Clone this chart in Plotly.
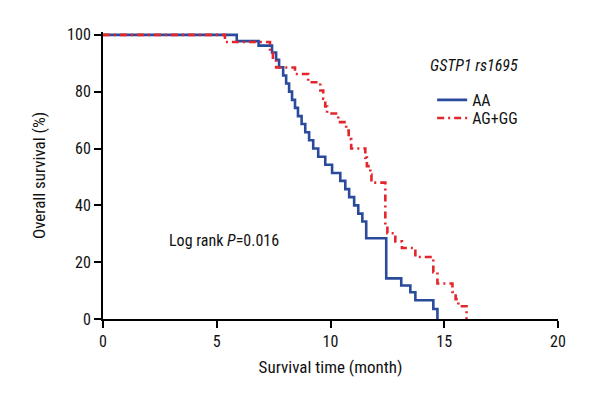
import plotly.graph_objects as go

# Kaplan-Meier step data
aa_time = [0, 5.88, 6.84, 7.43, 7.61, 7.74, 7.92, 8.05, 8.18, 8.31, 8.44, 8.57, 8.73, 8.89,
           9.06, 9.24, 9.46, 9.77, 10.07, 10.43, 10.65, 10.82, 11.04, 11.22, 11.40, 11.57,
           12.45, 13.11, 13.51, 13.73, 14.52, 14.70]
aa_surv = [100, 97.8, 96.2, 93.8, 91.2, 88.6, 85.7, 82.9, 80.0, 77.1, 74.3, 71.4, 68.6, 65.7,
           62.9, 60.0, 57.1, 54.3, 51.4, 48.6, 45.7, 42.9, 40.0, 37.1, 34.3, 28.4,
           14.3, 11.8, 9.4, 6.6, 3.5, 0]

ag_time = [0, 5.36, 7.34, 7.47, 7.61, 8.44, 9.02, 9.55, 9.68, 9.77, 9.85, 10.34, 10.69, 10.80,
           10.91, 11.53, 11.60, 11.75, 11.80, 12.41, 12.50, 12.85, 13.14, 13.73, 14.52, 14.70,
           15.36, 15.50, 15.62, 15.98]
ag_surv = [100, 97.5, 94.3, 91.4, 88.5, 86.2, 83.3, 80.4, 77.5, 74.8, 72.3, 69.3, 66.3, 63.3,
           60.0, 56.8, 53.8, 50.8, 48.0, 33.0, 30.2, 27.3, 25.0, 21.8, 16.5, 12.5,
           9.5, 7.0, 4.5, 0]

x_ticks = [0, 5, 10, 15, 20]
y_ticks = [0, 20, 40, 60, 80, 100]

FONT = "Liberation Sans Narrow, Roboto Condensed, DejaVu Sans Condensed, Arial Narrow, sans-serif"
BLUE = "#2a4a9c"
RED = "#e3262b"

fig = go.Figure()
fig.add_trace(go.Scatter(x=aa_time, y=aa_surv, mode="lines", name="AA", legend="legend",
                         line=dict(color=BLUE, width=2.6, shape="hv")))
fig.add_trace(go.Scatter(x=ag_time, y=ag_surv, mode="lines", name="AG+GG", legend="legend2",
                         line=dict(color=RED, width=2.6, shape="hv", dash="7px,4px,2px,4px")))

fig.add_annotation(x=5.32, y=27.7, xref="x", yref="y", showarrow=False,
                   text="Log rank <i>P</i>=0.016", font=dict(family=FONT, size=16, color="#111"))
fig.add_annotation(x=16.29, y=89.1, xref="x", yref="y", showarrow=False,
                   text="<i>GSTP1 rs1695</i>", font=dict(family=FONT, size=16, color="#111"))

leg_common = dict(xanchor="left", yanchor="middle", bgcolor="rgba(0,0,0,0)", borderwidth=0,
                  font=dict(family=FONT, size=16, color="#111"), itemwidth=30)

fig.update_layout(
    width=584, height=384,
    margin=dict(l=95, r=34, t=24, b=73),
    paper_bgcolor="white", plot_bgcolor="white",
    font=dict(family=FONT, size=16, color="#111"),
    showlegend=True,
    legend=dict(x=0.7234, y=0.763, **leg_common),
    legend2=dict(x=0.7234, y=0.700, **leg_common),
    xaxis=dict(range=[0, 20], tickvals=x_ticks, showline=True, linecolor="black", linewidth=2,
               ticks="outside", ticklen=7, tickwidth=2, tickcolor="black",
               showgrid=False, zeroline=False,
               title=dict(text="Survival time (month)", font=dict(family=FONT, size=17), standoff=11),
               tickfont=dict(family=FONT, size=16)),
    yaxis=dict(range=[0, 101], tickvals=y_ticks, showline=True, linecolor="black", linewidth=2,
               ticks="outside", ticklen=7, tickwidth=2, tickcolor="black",
               showgrid=False, zeroline=False,
               title=dict(text="Overall survival (%)", font=dict(family=FONT, size=17), standoff=17),
               tickfont=dict(family=FONT, size=16)),
)

fig.write_html("out.html")
